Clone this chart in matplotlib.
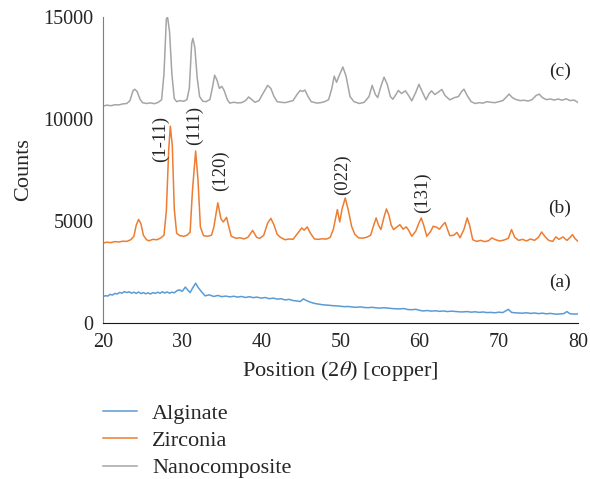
import matplotlib

matplotlib.use("Agg")

import matplotlib.pyplot as plt
from matplotlib.lines import Line2D

# Peak positions (2-theta) and counts for each pattern
alginate_x = [
    20.0, 20.3, 20.6, 20.9, 21.2, 21.5, 21.8, 22.1, 22.4, 22.7, 23.0, 23.3, 23.6, 23.9,
    24.2, 24.5, 24.8, 25.1, 25.4, 25.7, 26.0, 26.3, 26.6, 26.9, 27.2, 27.5, 27.8, 28.1,
    28.4, 28.7, 29.0, 29.4, 29.7, 30.0, 30.4, 30.7, 31.0, 31.3, 31.7, 32.0,
    32.4, 32.9, 33.4, 34.0, 34.5, 35.0, 35.5, 36.0, 36.5, 37.0, 37.5, 38.0, 38.5, 39.0,
    39.4, 40.0, 40.5, 41.0, 41.5, 42.0, 42.5, 43.0, 43.5, 44.0, 44.5, 44.9, 45.3, 45.7,
    46.2, 46.7, 47.2, 47.8, 48.5, 49.0, 49.5, 50.0, 50.5, 51.0, 51.5, 52.0, 52.5, 53.0,
    53.5, 54.0, 54.5, 55.0, 55.5, 56.2, 56.8, 57.5, 58.0, 58.5, 59.0, 59.5, 60.0, 60.4,
    61.0, 61.5, 62.0, 62.5, 63.0, 63.5, 64.0, 64.7, 65.3, 66.0, 66.5, 67.0, 67.5, 68.0,
    68.5, 69.0, 69.5, 70.0, 70.5, 71.2, 71.6, 72.0, 72.5, 73.0, 73.5, 74.0, 74.5, 75.0,
    75.5, 76.0, 76.5, 77.3, 77.8, 78.2, 78.6, 79.0, 79.5, 80.0,
]
alginate_y = [
    1290, 1340, 1320, 1400, 1370, 1450, 1420, 1500, 1460, 1540, 1490, 1530, 1460, 1510,
    1450, 1520, 1440, 1490, 1430, 1480, 1420, 1490, 1450, 1510, 1460, 1530, 1470, 1520,
    1460, 1510, 1480, 1600, 1620, 1550, 1760, 1620, 1490, 1700, 1950, 1750,
    1550, 1330, 1380, 1300, 1350, 1290, 1320, 1280, 1310, 1270, 1300, 1250, 1290, 1240,
    1270, 1220, 1250, 1190, 1220, 1170, 1190, 1130, 1160, 1100, 1080, 1050, 1180, 1100,
    1020, 960, 930, 890, 870, 850, 840, 820, 800, 810, 780, 770, 790, 760,
    750, 770, 740, 730, 750, 720, 700, 690, 710, 660, 650, 670, 620, 590,
    610, 580, 600, 570, 590, 560, 580, 560, 540, 560, 530, 550, 520, 540,
    510, 520, 500, 530, 510, 670, 520, 500, 490, 480, 500, 470, 490, 460,
    480, 450, 470, 430, 450, 460, 560, 450, 440, 440,
]

zirconia_x = [
    20.0, 20.5, 21.0, 21.5, 22.0, 22.5, 23.0, 23.5, 23.9, 24.2, 24.5, 24.8, 25.1, 25.5,
    25.8, 26.3, 26.8, 27.3, 27.7, 28.0, 28.3, 28.5, 28.75, 29.0, 29.3, 29.7, 30.2, 30.6,
    31.0, 31.3, 31.7, 32.0, 32.3, 32.7, 33.2, 33.7, 34.0, 34.5, 34.9, 35.2, 35.6, 35.9,
    36.2, 36.8, 37.3, 37.8, 38.3, 38.9, 39.4, 39.8, 40.3, 40.8, 41.2, 41.6, 42.0, 42.4,
    43.0, 43.5, 44.0, 44.5, 45.1, 45.4, 45.8, 46.2, 46.7, 47.2, 47.7, 48.2, 48.7, 49.1,
    49.6, 49.9, 50.2, 50.6, 51.0, 51.4, 51.8, 52.3, 52.8, 53.3, 53.8, 54.2, 54.5, 54.8,
    55.1, 55.5, 55.8, 56.1, 56.4, 56.7, 57.1, 57.5, 57.9, 58.3, 58.6, 59.0, 59.5, 59.9,
    60.2, 60.5, 60.9, 61.4, 61.7, 62.1, 62.5, 62.9, 63.2, 63.5, 63.8, 64.3, 64.7, 65.1,
    65.6, 66.0, 66.3, 66.7, 67.2, 67.7, 68.2, 68.7, 69.1, 69.6, 70.1, 70.6, 71.2, 71.6,
    72.0, 72.5, 73.0, 73.5, 74.0, 74.5, 75.0, 75.4, 75.8, 76.3, 76.8, 77.2, 77.6, 78.1,
    78.6, 79.0, 79.3, 79.6, 80.0,
]
zirconia_y = [
    3920, 3960, 3940, 3990, 3970, 4010, 4000, 4080, 4250, 4800, 5080, 4850, 4300, 4080,
    4030, 4100, 4080, 4170, 4300, 5500, 8500, 9650, 8700, 5600, 4400, 4280, 4250, 4300,
    4450, 6500, 8430, 7000, 4700, 4280, 4250, 4300, 4700, 5890, 5100, 4950, 5180, 4700,
    4250, 4150, 4180, 4120, 4200, 4540, 4200, 4150, 4300, 4900, 5130, 4800, 4350, 4200,
    4080, 4120, 4100, 4350, 4660, 4550, 4710, 4400, 4120, 4100, 4130, 4110, 4200, 4600,
    5560, 4950, 5600, 6130, 5500, 4740, 4350, 4170, 4160, 4200, 4300, 4800, 5150, 4800,
    4580, 5200, 5590, 5300, 4800, 4580, 4700, 4820, 4600, 4710, 4550, 4250, 4500, 4900,
    5150, 4800, 4250, 4500, 4740, 4700, 4600, 4800, 4930, 4600, 4280, 4300, 4440, 4180,
    4600, 5150, 4800, 4080, 4000, 4050, 3990, 4030, 4170, 4080, 4020, 4060, 4150, 4580,
    4200, 4050, 4100, 4020, 4120, 4050, 4200, 4460, 4250, 4050, 4000, 4220, 4100, 4220,
    4050, 4200, 4330, 4150, 4000,
]

composite_x = [
    20.0, 20.5, 21.0, 21.5, 22.0, 22.5, 23.0, 23.4, 23.8, 24.0, 24.3, 24.7, 25.0, 25.5,
    26.0, 26.5, 27.0, 27.4, 27.7, 28.0, 28.15, 28.4, 28.7, 29.0, 29.3, 29.7, 30.2, 30.6,
    30.9, 31.2, 31.35, 31.6, 31.9, 32.2, 32.6, 33.0, 33.5, 33.8, 34.1, 34.4, 34.7, 35.0,
    35.3, 35.7, 36.0, 36.5, 37.0, 37.5, 38.0, 38.4, 38.8, 39.2, 39.7, 40.2, 40.8, 41.2,
    41.6, 42.0, 42.5, 43.0, 43.5, 44.0, 44.5, 44.9, 45.2, 45.5, 45.9, 46.3, 47.0, 47.5,
    48.0, 48.5, 48.9, 49.2, 49.5, 49.8, 50.3, 50.7, 51.2, 51.7, 52.4, 53.0, 53.6, 54.0,
    54.4, 54.7, 55.1, 55.5, 55.9, 56.3, 56.6, 57.0, 57.3, 57.7, 58.2, 58.6, 59.0, 59.5,
    59.9, 60.3, 60.8, 61.2, 61.5, 61.9, 62.3, 62.8, 63.2, 63.8, 64.4, 64.9, 65.3, 65.6,
    66.0, 66.5, 67.0, 67.5, 68.0, 68.5, 69.0, 69.5, 70.0, 70.5, 71.0, 71.3, 71.7, 72.2,
    72.7, 73.2, 73.7, 74.2, 74.7, 75.1, 75.5, 76.0, 76.5, 77.0, 77.5, 78.0, 78.5, 79.0,
    79.5, 80.0,
]
composite_y = [
    10630, 10680, 10650, 10700, 10690, 10740, 10760, 10900, 11400, 11460, 11350, 10950, 10800, 10760,
    10790, 10750, 10820, 10950, 12200, 14900, 15000, 14300, 12200, 11000, 10850, 10900, 10870, 10950,
    11500, 13700, 13950, 13500, 12000, 11100, 10870, 10850, 10950, 11500, 12150, 11900, 11500, 11600,
    11400, 10950, 10780, 10820, 10790, 10800, 10900, 11080, 10950, 10820, 10900, 11250, 11650, 11500,
    11100, 10850, 10820, 10800, 10850, 10900, 11200, 11400, 11350, 11420, 11100, 10850, 10780, 10800,
    10850, 10950, 11500, 12100, 11800, 12100, 12550, 12100, 11100, 10850, 10760, 10820, 11100, 11650,
    11200, 11050, 11600, 12050, 11700, 11100, 10970, 11200, 11400, 11250, 11380, 11150, 10890, 11300,
    11700, 11350, 10940, 11250, 11380, 11200, 11300, 11450, 11150, 10940, 11050, 11100, 11350, 11460,
    11150, 10850, 10760, 10800, 10780, 10850, 10820, 10800, 10850, 10900, 11100, 11220, 11050, 10950,
    10900, 10920, 10880, 10950, 11150, 11220, 11050, 10950, 10980, 10930, 10980, 10920, 10990, 10900,
    10930, 10810,
]

series_names = ["Alginate", "Zirconia", "Nanocomposite"]
series_colors = ["#5B9BD5", "#ED7D31", "#A5A5A5"]

# Miller indices marked above the zirconia reflections
hkl_labels = ["(1-11)", "(111)", "(120)", "(022)", "(131)"]
hkl_pos = [27.2, 31.6, 34.8, 50.3, 60.3]
hkl_counts = [9030, 9690, 7480, 7280, 6400]

trace_tags = ["(a)", "(b)", "(c)"]
tag_counts = [1970, 5600, 12350]

plt.rcParams["font.family"] = ["Liberation Serif", "DejaVu Serif"]
plt.rcParams["mathtext.fontset"] = "stix"
text_color = "#262626"

fig = plt.figure(figsize=(5.9, 4.79), dpi=100)
ax = fig.add_axes([0.1746, 0.3257, 0.8051, 0.6388])

series = [
    (alginate_x, alginate_y),
    (zirconia_x, zirconia_y),
    (composite_x, composite_y),
]
for (xs, ys), color in zip(series, series_colors):
    ax.plot(xs, ys, color=color, linewidth=1.1)

for label, x, y in zip(hkl_labels, hkl_pos, hkl_counts):
    ax.text(x, y, label, rotation=90, ha="center", va="center",
            fontsize=13.5, color=text_color)

for tag, y in zip(trace_tags, tag_counts):
    ax.text(77.7, y, tag, ha="center", va="center", fontsize=14, color=text_color)

ax.set_xlim(20, 80)
ax.set_ylim(0, 15000)
ax.set_xticks(range(20, 81, 10))
ax.set_yticks([0, 5000, 10000, 15000])
ax.tick_params(length=0, labelsize=14.5, colors=text_color, pad=7)
for side in ("top", "right"):
    ax.spines[side].set_visible(False)
ax.spines["left"].set_color("#7f7f7f")
ax.spines["bottom"].set_color("#1a1a1a")

ax.set_xlabel("Position (2$\\theta$) [copper]", fontsize=16, color=text_color, labelpad=5)
ax.set_ylabel("Counts", fontsize=16, color=text_color, labelpad=7)

handles = [Line2D([], [], color=c, linewidth=1.1) for c in series_colors]
fig.legend(
    handles,
    series_names,
    loc="upper left",
    bbox_to_anchor=(0.174, 0.158),
    frameon=False,
    fontsize=16,
    handlelength=1.55,
    handletextpad=0.68,
    labelspacing=0.3,
    borderpad=0,
    borderaxespad=0,
    labelcolor=text_color,
)

fig.savefig("out.png", dpi=100)
